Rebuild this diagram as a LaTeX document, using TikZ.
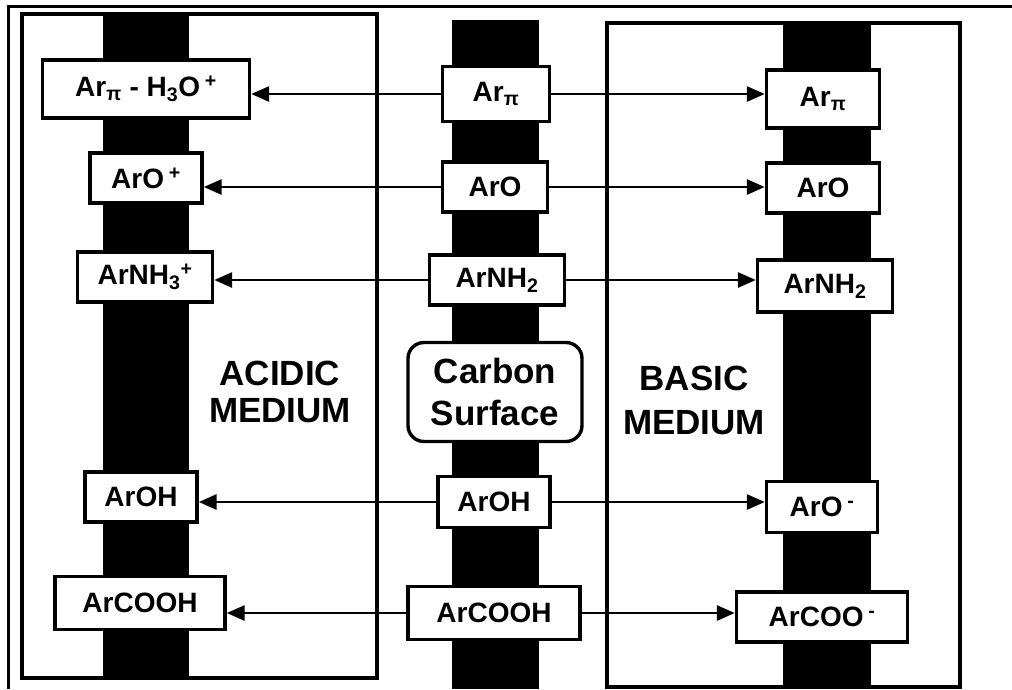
\documentclass[tikz,border=0pt]{standalone}
\usepackage{fontspec}
\setmainfont{Liberation Sans}
\usetikzlibrary{arrows.meta}
\begin{document}
\begin{tikzpicture}[x=1pt,y=-1pt,
  chem/.style={draw, line width=3.4pt, fill=white, inner sep=0pt,
    font=\fontsize{28}{30}\selectfont\bfseries},
  medium/.style={draw, line width=3.4pt},
  conn/.style={line width=2.9pt, -{Triangle[length=18pt,width=15pt]}},
  biglabel/.style={align=center, inner sep=0pt,
    font=\fontsize{35}{40}\selectfont\bfseries}
]
\useasboundingbox (0,0) rectangle (1012,689);
\fill[white] (0,0) rectangle (1012,689);
% outer frame (top and left)
\draw[line width=3pt] (8,689) -- (8,6) -- (1012,6);
% black bars
\fill[black] (103,14) rectangle (189,678);
\fill[black] (452,20) rectangle (539,689);
\fill[black] (783,25) rectangle (871,689);
% medium boxes
\draw[medium] (22,14) rectangle (377,678);
\draw[medium] (607,23) rectangle (960,687);

% left column (acidic)
\node[chem, minimum width=207pt, minimum height=58pt] (L1) at (146,89) {Ar\textsubscript{π} - H\textsubscript{3}O\,\textsuperscript{+}};
\node[chem, minimum width=112pt, minimum height=50pt] (L2) at (146,178) {ArO\,\textsuperscript{+}};
\node[chem, minimum width=135pt, minimum height=50pt] (L3) at (145,277) {ArNH\textsubscript{3}\textsuperscript{+}};
\node[chem, minimum width=112pt, minimum height=50pt] (L4) at (141,497) {ArOH};
\node[chem, minimum width=170pt, minimum height=53pt] (L5) at (140,603) {ArCOOH};

% middle column (carbon surface)
\node[chem, minimum width=107pt, minimum height=55pt] (M1) at (496,94) {Ar\textsubscript{π}};
\node[chem, minimum width=105pt, minimum height=50pt] (M2) at (495,187) {ArO};
\node[chem, minimum width=135pt, minimum height=50pt] (M3) at (497,280) {ArNH\textsubscript{2}};
\node[chem, minimum width=112pt, minimum height=51pt] (M4) at (494,502) {ArOH};
\node[chem, minimum width=172pt, minimum height=53pt] (M5) at (494,613) {ArCOOH};
\node[draw, line width=3.4pt, fill=white, rounded corners=16pt, align=center,
  minimum width=174pt, minimum height=99pt, inner sep=0pt,
  font=\fontsize{35}{42}\selectfont\bfseries] (CS) at (495,392) {Carbon\\Surface};

% right column (basic)
\node[chem, minimum width=113pt, minimum height=58pt] (R1) at (823,99) {Ar\textsubscript{π}};
\node[chem, minimum width=113pt, minimum height=50pt] (R2) at (823,188) {ArO};
\node[chem, minimum width=135pt, minimum height=52pt] (R3) at (825,286) {ArNH\textsubscript{2}};
\node[chem, minimum width=111pt, minimum height=51pt] (R4) at (822,507) {ArO\,\textsuperscript{-}};
\node[chem, minimum width=171pt, minimum height=50pt] (R5) at (822,617) {ArCOO\,\textsuperscript{-}};

% medium labels
\node[biglabel, font=\fontsize{35}{37}\selectfont\bfseries] (AC) at (280,392) {ACIDIC\\MEDIUM};
\node[biglabel, font=\fontsize{35}{44}\selectfont\bfseries] (BA) at (694,400) {BASIC\\MEDIUM};

% connectors
\foreach \m/\l/\r in {M1/L1/R1, M2/L2/R2, M3/L3/R3, M4/L4/R4, M5/L5/R5}{
  \draw[conn] (\m.west) -- (\m.west -| \l.east);
  \draw[conn] (\m.east) -- (\m.east -| \r.west);
}
\end{tikzpicture}
\end{document}
